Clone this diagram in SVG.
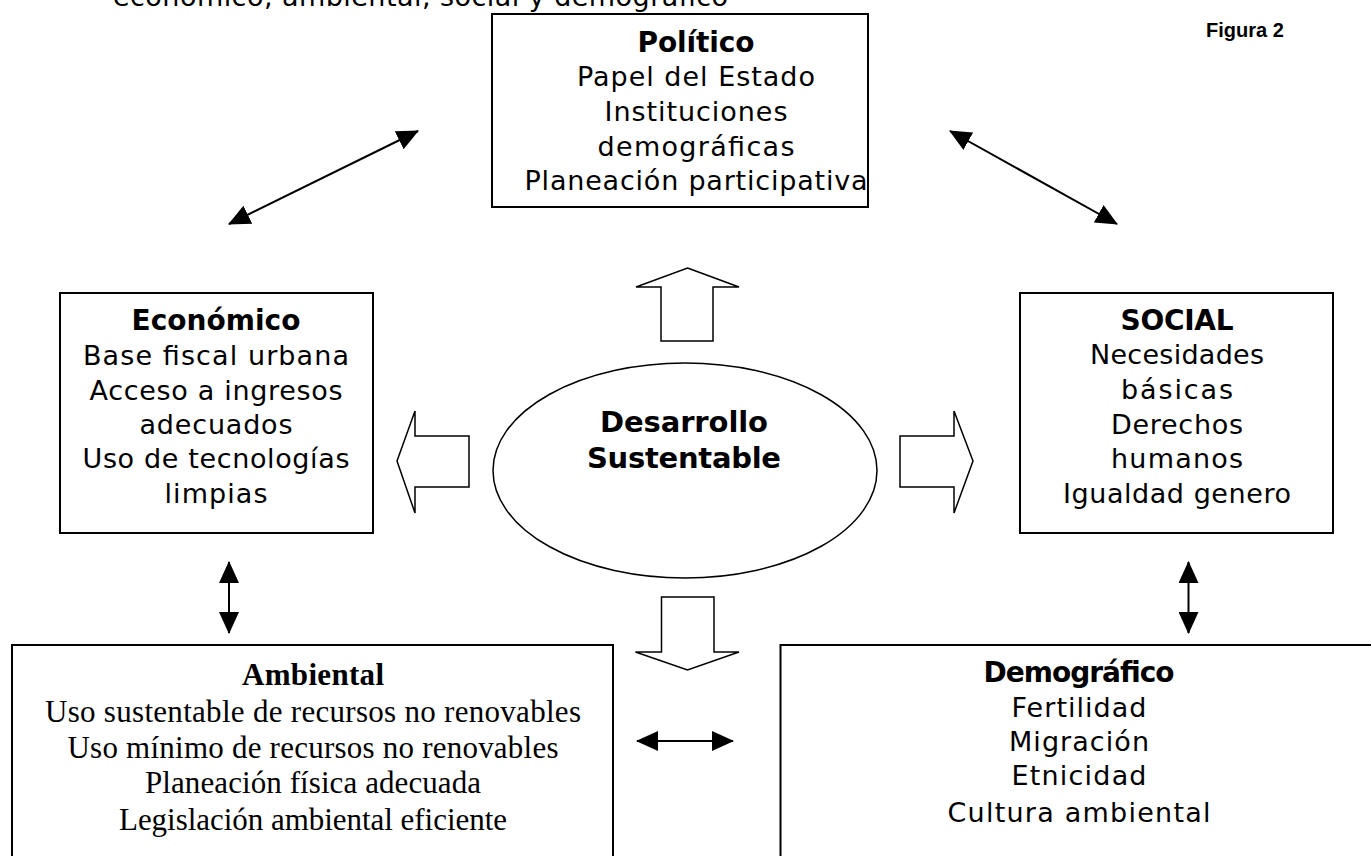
<svg xmlns="http://www.w3.org/2000/svg" width="1371" height="856" viewBox="0 0 1371 856">
<style>
.box{fill:#fff;stroke:#000;stroke-width:2}
.blk{fill:#fff;stroke:#000;stroke-width:1.5}
.t{font-family:"DejaVu Sans","Verdana",sans-serif;font-size:27px;fill:#000;text-anchor:middle}
.h{font-family:"DejaVu Sans","Verdana",sans-serif;font-size:28px;font-weight:bold;fill:#000;text-anchor:middle}
.s{font-family:"Liberation Serif","Times New Roman",serif;font-size:31px;fill:#000;text-anchor:middle}
.sb{font-family:"Liberation Serif","Times New Roman",serif;font-size:31px;font-weight:bold;fill:#000;text-anchor:middle}
.ln{fill:none;stroke:#000;stroke-width:2;marker-start:url(#ah);marker-end:url(#ah)}
</style>
<defs>
<marker id="ah" viewBox="0 0 22 20" refX="21" refY="10" markerWidth="22" markerHeight="20" markerUnits="userSpaceOnUse" orient="auto-start-reverse">
<path d="M0,0 L22,10 L0,20 z" fill="#000"/>
</marker>
</defs>
<rect width="1371" height="856" fill="#fff"/>
<text class="t" x="113" y="6" style="text-anchor:start" textLength="615">económico, ambiental, social y demográfico</text>
<text x="1206" y="37" font-family="Liberation Sans, Arial, sans-serif" font-size="20" font-weight="bold">Figura 2</text>

<g id="politico">
<rect class="box" x="492" y="14" width="376" height="193"/>
<text class="h" x="696" y="52" textLength="117">Político</text>
<text class="t" x="696" y="86" textLength="238">Papel del Estado</text>
<text class="t" x="696" y="121" textLength="183">Instituciones</text>
<text class="t" x="696" y="156" textLength="197">demográficas</text>
<text class="t" x="696" y="190" textLength="343">Planeación participativa</text>
</g>

<g id="economico">
<rect class="box" x="60" y="293" width="313" height="240"/>
<text class="h" x="216" y="330" textLength="169">Económico</text>
<text class="t" x="216" y="365" textLength="266">Base fiscal urbana</text>
<text class="t" x="216" y="400" textLength="253">Acceso a ingresos</text>
<text class="t" x="216" y="434" textLength="153">adecuados</text>
<text class="t" x="216" y="468" textLength="267">Uso de tecnologías</text>
<text class="t" x="216" y="503" textLength="103">limpias</text>
</g>

<g id="social">
<rect class="box" x="1020" y="293" width="313" height="240"/>
<text class="h" x="1177" y="330" textLength="113">SOCIAL</text>
<text class="t" x="1177" y="364" textLength="174">Necesidades</text>
<text class="t" x="1177" y="399" textLength="112">básicas</text>
<text class="t" x="1177" y="434" textLength="132">Derechos</text>
<text class="t" x="1177" y="468" textLength="132">humanos</text>
<text class="t" x="1177" y="503" textLength="228">Igualdad genero</text>
</g>

<g id="desarrollo">
<ellipse cx="685" cy="470.5" rx="192" ry="107.5" fill="#fff" stroke="#000" stroke-width="1.5"/>
<text class="h" x="684" y="432" style="font-size:29px" textLength="168">Desarrollo</text>
<text class="h" x="684" y="468" style="font-size:29px" textLength="194">Sustentable</text>
</g>

<g id="ambiental">
<rect class="box" x="12" y="645" width="601" height="240"/>
<text class="sb" x="313" y="685" textLength="142">Ambiental</text>
<text class="s" x="313" y="722" textLength="536">Uso sustentable de recursos no renovables</text>
<text class="s" x="313" y="758" textLength="491">Uso mínimo de recursos no renovables</text>
<text class="s" x="313" y="793" textLength="336">Planeación física adecuada</text>
<text class="s" x="313" y="830" textLength="388">Legislación ambiental eficiente</text>
</g>

<g id="demografico">
<rect class="box" x="780.5" y="645" width="640" height="240"/>
<text class="h" x="1079" y="682" textLength="191">Demográfico</text>
<text class="t" x="1079" y="717" textLength="135">Fertilidad</text>
<text class="t" x="1079" y="751" textLength="140">Migración</text>
<text class="t" x="1079" y="785" textLength="135">Etnicidad</text>
<text class="t" x="1079" y="822" textLength="263">Cultura ambiental</text>
</g>

<g id="connectors">
<polygon class="blk" points="687.5,268 739,287 713,287 713,341 661,341 661,287 636,287"/>
<polygon class="blk" points="661.5,597 714,597 714,652 739,652 687.5,670 635.5,652 661.5,652"/>
<polygon class="blk" points="397,461 415,411 415,436 469,436 469,487 415,487 415,513"/>
<polygon class="blk" points="900,436 954,436 954,411 973,461 954,513 954,487 900,487"/>
<line class="ln" x1="229" y1="224" x2="418" y2="131"/>
<line class="ln" x1="950" y1="131" x2="1117" y2="224"/>
<line class="ln" x1="229" y1="562" x2="229" y2="633"/>
<line class="ln" x1="1188.5" y1="562" x2="1188.5" y2="633"/>
<line class="ln" x1="637" y1="741" x2="733" y2="741"/>
</g>
</svg>
